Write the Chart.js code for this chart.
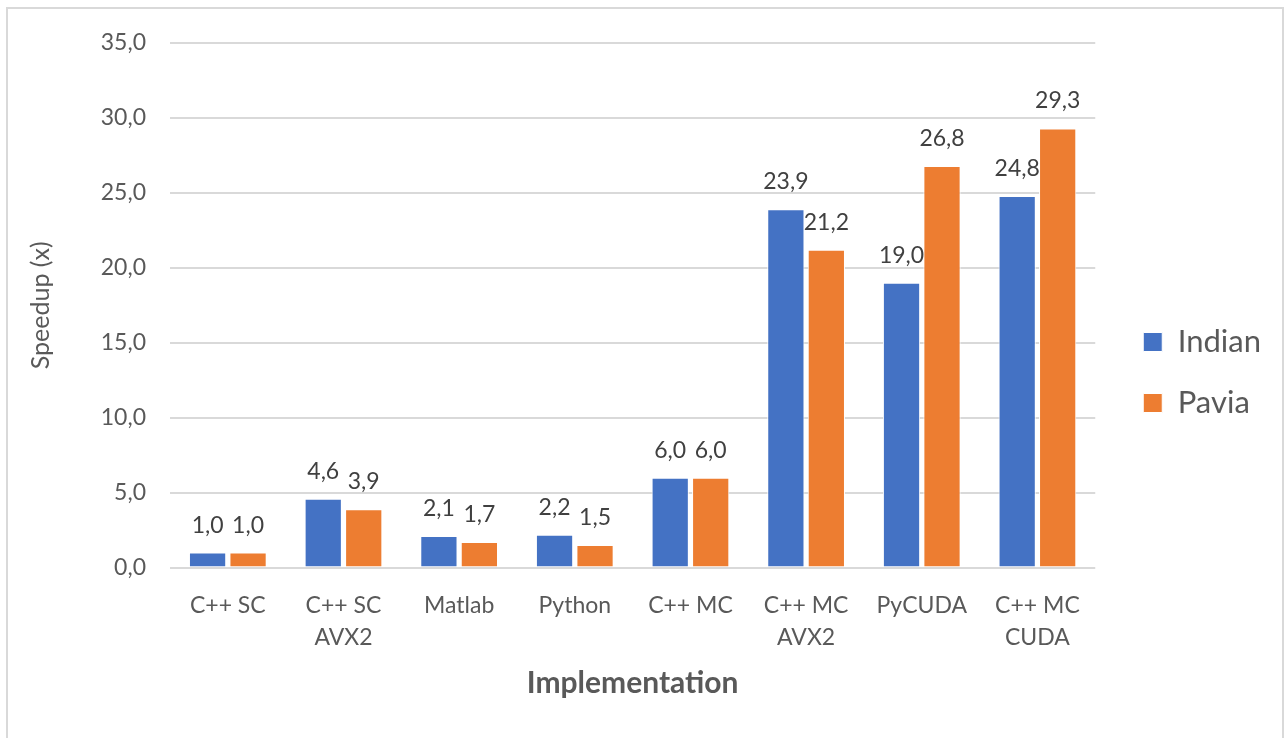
<!DOCTYPE html>
<html>
<head>
<meta charset="utf-8">
<script src="https://cdn.jsdelivr.net/npm/chart.js@4"></script>
<style>
  html, body { margin: 0; padding: 0; background: #fff; }
  #wrap { width: 1287px; height: 738px; position: relative; }
</style>
</head>
<body>
<div id="wrap"><canvas id="speedupChart" width="1287" height="738"></canvas></div>
<script>
const categories = [["C++ SC"], ["C++ SC", "AVX2"], ["Matlab"], ["Python"], ["C++ MC"], ["C++ MC", "AVX2"], ["PyCUDA"], ["C++ MC", "CUDA"]];
const indianValues = [1.0, 4.6, 2.1, 2.2, 6.0, 23.9, 19.0, 24.8];
const paviaValues = [1.0, 3.9, 1.7, 1.5, 6.0, 21.2, 26.8, 29.3];
const seriesNames = ["Indian", "Pavia"];

const fontFamily = "Lato, 'Open Sans', sans-serif";

// etiquetas encima de cada barra, con coma decimal
const barLabels = {
    id: 'barLabels',
    afterDatasetsDraw(chart) {
        const ctx = chart.ctx;
        ctx.save();
        ctx.font = '23px ' + fontFamily;
        ctx.fillStyle = '#404040';
        ctx.textAlign = 'center';
        ctx.textBaseline = 'alphabetic';
        chart.data.datasets.forEach((ds, i) => {
            chart.getDatasetMeta(i).data.forEach((bar, j) => {
                const txt = ds.data[j].toFixed(1).replace('.', ',');
                ctx.fillText(txt, bar.x, bar.y - 20);
            });
        });
        ctx.restore();
    }
};

// marco gris alrededor del gráfico
const frame = {
    id: 'frame',
    beforeDraw(chart) {
        const ctx = chart.ctx;
        ctx.save();
        ctx.fillStyle = '#fff';
        ctx.fillRect(0, 0, chart.width, chart.height);
        ctx.strokeStyle = '#d9d9d9';
        ctx.lineWidth = 2;
        ctx.strokeRect(7, 8, 1276, 740);
        ctx.restore();
    }
};

const ctx = document.getElementById('speedupChart').getContext('2d');
new Chart(ctx, {
    type: 'bar',
    data: {
        labels: categories,
        datasets: [{
            label: seriesNames[0],
            data: indianValues,
            backgroundColor: '#4472C4',
            borderColor: '#ffffff',
            borderWidth: 1
        }, {
            label: seriesNames[1],
            data: paviaValues,
            backgroundColor: '#ED7D31',
            borderColor: '#ffffff',
            borderWidth: 1
        }]
    },
    options: {
        responsive: false,
        animation: false,
        layout: { padding: { top: 43, left: 20, right: 16, bottom: 36 } },
        datasets: { bar: { categoryPercentage: 0.7, barPercentage: 0.92 } },
        plugins: {
            legend: {
                position: 'right',
                labels: {
                    boxWidth: 19,
                    boxHeight: 19,
                    padding: 30,
                    color: '#595959',
                    font: { size: 31, family: fontFamily }
                }
            },
            tooltip: { enabled: false }
        },
        scales: {
            x: {
                grid: { display: false },
                border: { display: false },
                ticks: {
                    color: '#595959',
                    font: { size: 23, family: fontFamily, lineHeight: 1.4 },
                    maxRotation: 0,
                    padding: 14
                },
                title: {
                    display: true,
                    text: 'Implementation',
                    color: '#595959',
                    font: { size: 30, weight: 'bold', family: fontFamily, lineHeight: 1.0 },
                    padding: { top: 0 }
                }
            },
            y: {
                min: 0,
                max: 35,
                afterFit: s => { s.width = 150; },
                ticks: {
                    stepSize: 5,
                    color: '#595959',
                    font: { size: 23, family: fontFamily },
                    padding: 24,
                    callback: v => v.toFixed(1).replace('.', ',')
                },
                grid: { color: '#d9d9d9', lineWidth: 2, drawTicks: false },
                border: { display: false },
                title: {
                    display: true,
                    text: 'Speedup (x)',
                    color: '#595959',
                    font: { size: 25, family: fontFamily },
                    padding: { top: 6, bottom: 12 }
                }
            },
            // eje vacío a la derecha, sólo para separar la leyenda del área
            gap: {
                position: 'right',
                min: 0,
                max: 35,
                grid: { display: false },
                border: { display: false },
                ticks: { display: false },
                afterFit: s => { s.width = 18; }
            }
        }
    },
    plugins: [frame, barLabels]
});
</script>
</body>
</html>
